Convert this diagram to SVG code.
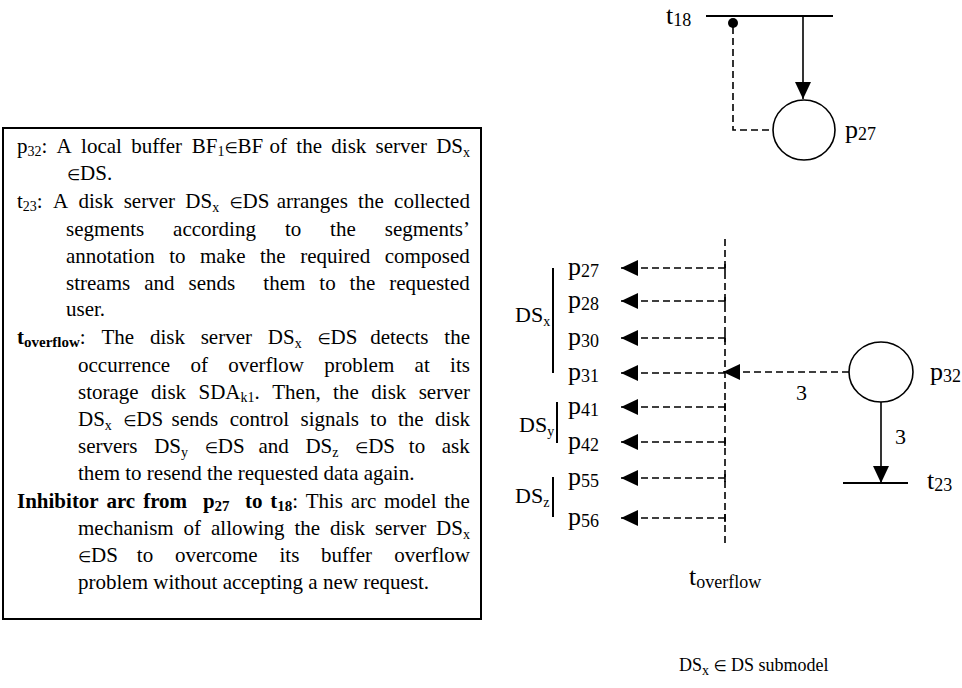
<svg xmlns="http://www.w3.org/2000/svg" width="962" height="688" viewBox="0 0 962 688">
  <style>
    text { font-family: "Liberation Serif", "DejaVu Serif", serif; fill: #000; }
    .body { font-size: 21px; }
    .sub { font-size: 14px; }
    .bsub { font-size: 15px; font-weight: bold; }
    .el { font-family: "DejaVu Sans", sans-serif; font-size: 15px; }
    .b { font-weight: bold; }
    .lbl { font-size: 22px; }
    .cap { font-size: 18px; }
    .pl { font-size: 26px; }
    .pd { font-size: 18px; }
    .solid { stroke: #000; stroke-width: 1.6; fill: none; }
    .bar { stroke: #000; stroke-width: 2; fill: none; }
    .dash { stroke: #000; stroke-width: 1.6; fill: none; stroke-dasharray: 7 4; }
    .place { stroke: #000; stroke-width: 1.6; fill: #fff; }
  </style>
  <defs>
    <marker id="head" viewBox="0 0 17 16" refX="17" refY="8" markerWidth="17" markerHeight="16" markerUnits="userSpaceOnUse" orient="auto">
      <path d="M0,0 L17,8 L0,16 Z" fill="#000"/>
    </marker>
  </defs>

  <rect width="962" height="688" fill="#fff"/>

  <!-- legend box: justified lines are set word by word -->
  <g id="legend">
    <rect x="3" y="128" width="478" height="491" fill="none" stroke="#000" stroke-width="2"/>
    <g class="body">
      <text y="153"><tspan x="17">p</tspan><tspan class="sub" dy="3">32</tspan><tspan dy="-3">:</tspan><tspan x="56.6">A</tspan><tspan x="81.1">local</tspan><tspan x="131.2">buffer</tspan><tspan x="191.8">BF</tspan><tspan class="sub" dy="3">1</tspan><tspan class="el" dy="-3">∈</tspan><tspan>BF</tspan><tspan x="269.5">of</tspan><tspan x="296.3">the</tspan><tspan x="331.3">disk</tspan><tspan x="375.6">server</tspan><tspan x="436.2">DS</tspan><tspan class="sub" dy="4">x</tspan></text>
      <text x="67" y="180.25"><tspan class="el">∈</tspan>DS.</text>
      <text y="207.5"><tspan x="17">t</tspan><tspan class="sub" dy="3">23</tspan><tspan dy="-3">:</tspan><tspan x="52.9">A</tspan><tspan x="78.4">disk</tspan><tspan x="123.7">server</tspan><tspan x="185.3">DS</tspan><tspan class="sub" dy="4">x</tspan><tspan x="229.4" dy="-4" class="el">∈</tspan><tspan>DS</tspan><tspan x="276.7">arranges</tspan><tspan x="358.1">the</tspan><tspan x="394.1">collected</tspan></text>
      <text y="236"><tspan x="66">segments</tspan><tspan x="173.1">according</tspan><tspan x="284.9">to</tspan><tspan x="330.1">the</tspan><tspan x="384.8">segments’</tspan></text>
      <text y="263"><tspan x="66">annotation</tspan><tspan x="169.2">to</tspan><tspan x="200">make</tspan><tspan x="260">the</tspan><tspan x="300.2">required</tspan><tspan x="384.7">composed</tspan></text>
      <text y="290"><tspan x="66">streams</tspan><tspan x="144.2">and</tspan><tspan x="188.5">sends</tspan><tspan x="263.3">them</tspan><tspan x="319.3">to</tspan><tspan x="349.6">the</tspan><tspan x="389.3">requested</tspan></text>
      <text x="66" y="316">user.</text>
      <text y="343.5"><tspan x="17" class="b">t</tspan><tspan class="bsub" dy="3">overflow</tspan><tspan dy="-3">:</tspan><tspan x="101.4">The</tspan><tspan x="149.9">disk</tspan><tspan x="200.7">server</tspan><tspan x="267.8">DS</tspan><tspan class="sub" dy="4">x</tspan><tspan x="317.4" dy="-4" class="el">∈</tspan><tspan>DS</tspan><tspan x="370.2">detects</tspan><tspan x="444.3">the</tspan></text>
      <text y="371.5"><tspan x="78">occurrence</tspan><tspan x="190.4">of</tspan><tspan x="228.2">overflow</tspan><tspan x="324.3">problem</tspan><tspan x="414.6">at</tspan><tspan x="450.1">its</tspan></text>
      <text y="398.5"><tspan x="78">storage</tspan><tspan x="151.1">disk</tspan><tspan x="198.5">SDA</tspan><tspan class="sub" dy="3">k1</tspan><tspan dy="-3">.</tspan><tspan x="272.3">Then,</tspan><tspan x="333.1">the</tspan><tspan x="371.3">disk</tspan><tspan x="418.7">server</tspan></text>
      <text y="425.5"><tspan x="78">DS</tspan><tspan class="sub" dy="4">x</tspan><tspan x="123.2" dy="-4" class="el">∈</tspan><tspan>DS</tspan><tspan x="171.6">sends</tspan><tspan x="229.7">control</tspan><tspan x="300.6">signals</tspan><tspan x="370.3">to</tspan><tspan x="398">the</tspan><tspan x="435.1">disk</tspan></text>
      <text y="453"><tspan x="78">servers</tspan><tspan x="154.2">DS</tspan><tspan class="sub" dy="4">y</tspan><tspan x="204.7" dy="-4" class="el">∈</tspan><tspan>DS</tspan><tspan x="258.4">and</tspan><tspan x="305.4">DS</tspan><tspan class="sub" dy="4">z</tspan><tspan x="355.1" dy="-4" class="el">∈</tspan><tspan>DS</tspan><tspan x="408.8">to</tspan><tspan x="441.8">ask</tspan></text>
      <text x="78" y="480">them to resend the requested data again.</text>
      <text y="507.5"><tspan x="17" class="b">Inhibitor</tspan><tspan x="106.4" class="b">arc</tspan><tspan x="143.2" class="b">from</tspan><tspan x="202.9" class="b">p</tspan><tspan class="bsub" dy="3">27</tspan><tspan x="245" dy="-3" class="b">to</tspan><tspan x="270.2" class="b">t</tspan><tspan class="bsub" dy="3">18</tspan><tspan dy="-3">:</tspan><tspan x="305.7">This</tspan><tspan x="350.7">arc</tspan><tspan x="384">model</tspan><tspan x="444.2">the</tspan></text>
      <text y="534.5"><tspan x="78">mechanism</tspan><tspan x="183.6">of</tspan><tspan x="211">allowing</tspan><tspan x="294.4">the</tspan><tspan x="330">disk</tspan><tspan x="374.9">server</tspan><tspan x="436.1">DS</tspan><tspan class="sub" dy="4">x</tspan></text>
      <text y="561.5"><tspan x="78" class="el">∈</tspan><tspan>DS</tspan><tspan x="136.8">to</tspan><tspan x="174.9">overcome</tspan><tspan x="279.5">its</tspan><tspan x="321.1">buffer</tspan><tspan x="394.2">overflow</tspan></text>
      <text x="78" y="589">problem without accepting a new request.</text>
    </g>
  </g>

  <!-- transitions -->
  <g id="t18">
    <line class="bar" x1="706" y1="16" x2="833" y2="16"/>
    <text class="pl" x="666" y="24">t<tspan class="pd" dy="2">18</tspan></text>
  </g>
  <g id="t23">
    <line class="bar" x1="843" y1="483" x2="908" y2="483"/>
    <text class="pl" x="927" y="489">t<tspan class="pd" dy="2">23</tspan></text>
  </g>
  <g id="toverflow">
    <line class="dash" x1="725" y1="239" x2="725" y2="543" stroke-dasharray="8 5"/>
    <text class="pl" x="689" y="585">t<tspan class="pd" dy="3">overflow</tspan></text>
  </g>

  <!-- places -->
  <g id="p27-top">
    <ellipse class="place" cx="804" cy="130" rx="31" ry="30"/>
    <text class="pl" x="845" y="138">p<tspan class="pd" dy="2">27</tspan></text>
  </g>
  <g id="p32">
    <ellipse class="place" cx="881" cy="372" rx="32" ry="30"/>
    <text class="pl" x="930" y="380">p<tspan class="pd" dy="2">32</tspan></text>
  </g>
  <g id="out-places" class="pl">
    <text x="568" y="275">p<tspan class="pd" dy="2">27</tspan></text>
    <text x="568" y="308">p<tspan class="pd" dy="2">28</tspan></text>
    <text x="568" y="345">p<tspan class="pd" dy="2">30</tspan></text>
    <text x="568" y="380">p<tspan class="pd" dy="2">31</tspan></text>
    <text x="568" y="414">p<tspan class="pd" dy="2">41</tspan></text>
    <text x="568" y="449">p<tspan class="pd" dy="2">42</tspan></text>
    <text x="568" y="485">p<tspan class="pd" dy="2">55</tspan></text>
    <text x="568" y="525">p<tspan class="pd" dy="2">56</tspan></text>
  </g>

  <!-- server groupings -->
  <g id="group-dsx">
    <line class="bar" x1="553" y1="268" x2="553" y2="373"/>
    <text class="lbl" x="515" y="322">DS<tspan class="sub" dy="4">x</tspan></text>
  </g>
  <g id="group-dsy">
    <line class="bar" x1="557" y1="402" x2="557" y2="443"/>
    <text class="lbl" x="519" y="432">DS<tspan class="sub" dy="4">y</tspan></text>
  </g>
  <g id="group-dsz">
    <line class="bar" x1="553" y1="477" x2="553" y2="517"/>
    <text class="lbl" x="515" y="503">DS<tspan class="sub" dy="4">z</tspan></text>
  </g>

  <!-- arcs -->
  <g id="connectors">
    <line class="solid" x1="803" y1="17" x2="803" y2="99" marker-end="url(#head)"/>
    <path class="dash" d="M733,27 V130 H773" stroke-dasharray="8 5"/>
    <circle cx="733" cy="23" r="5" fill="#000"/>

    <line class="dash" x1="849" y1="372" x2="723" y2="372" marker-end="url(#head)"/>
    <text class="lbl" x="796" y="400">3</text>
    <line class="solid" x1="881" y1="402" x2="881" y2="483" marker-end="url(#head)"/>
    <text class="lbl" x="895" y="444">3</text>

    <g class="dash">
      <line x1="725" y1="268" x2="621" y2="268" marker-end="url(#head)"/>
      <line x1="725" y1="301" x2="621" y2="301" marker-end="url(#head)"/>
      <line x1="725" y1="338" x2="621" y2="338" marker-end="url(#head)"/>
      <line x1="725" y1="373" x2="621" y2="373" marker-end="url(#head)"/>
      <line x1="725" y1="407" x2="621" y2="407" marker-end="url(#head)"/>
      <line x1="725" y1="442" x2="621" y2="442" marker-end="url(#head)"/>
      <line x1="725" y1="478" x2="621" y2="478" marker-end="url(#head)"/>
      <line x1="725" y1="518" x2="621" y2="518" marker-end="url(#head)"/>
    </g>
    <g class="solid">
      <line x1="725" y1="264" x2="725" y2="272"/>
      <line x1="725" y1="297" x2="725" y2="305"/>
      <line x1="725" y1="334" x2="725" y2="342"/>
      <line x1="725" y1="403" x2="725" y2="411"/>
      <line x1="725" y1="438" x2="725" y2="446"/>
      <line x1="725" y1="474" x2="725" y2="482"/>
      <line x1="725" y1="514" x2="725" y2="522"/>
    </g>
  </g>

  <g id="caption">
    <text class="cap" x="679" y="671">DS<tspan class="sub" dy="4">x</tspan><tspan dy="-4"> </tspan><tspan class="el">∈</tspan><tspan> DS submodel</tspan></text>
  </g>
</svg>
